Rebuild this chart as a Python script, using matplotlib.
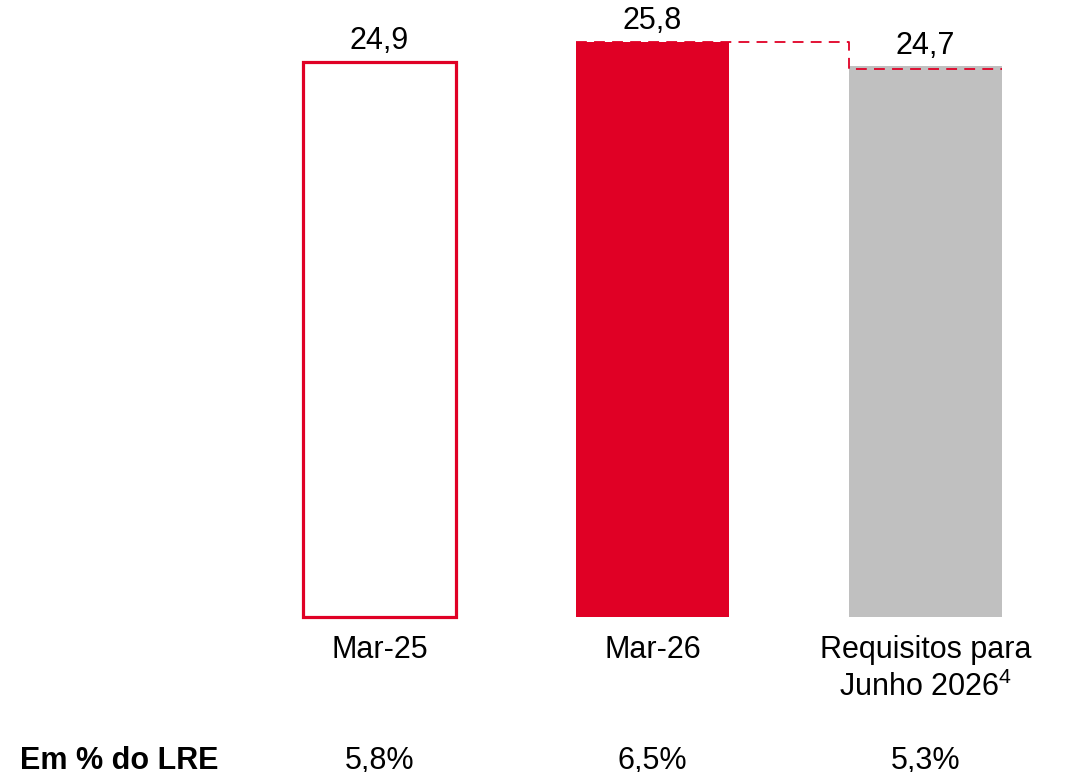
import matplotlib.pyplot as plt

# dados do gráfico
categorias = ["Mar-25", "Mar-26", "Requisitos para\nJunho 2026$^{\\mathrm{4}}$"]
valores = [24.9, 25.8, 24.7]
rotulos_valores = ["24,9", "25,8", "24,7"]
pct_lre = ["5,8%", "6,5%", "5,3%"]
titulo_linha = "Em % do LRE"

vermelho = "#E00025"
cinza = "#C0C0C0"

plt.rcParams['font.family'] = ['Liberation Sans', 'DejaVu Sans']
plt.rcParams['mathtext.fontset'] = 'custom'
plt.rcParams['mathtext.rm'] = 'Liberation Sans'

fig = plt.figure(figsize=(10.89, 7.72), dpi=100)
ax = fig.add_axes([0, 0, 1, 1])

x = [0, 1, 2]
largura = 0.56

# barras
ax.bar(x[0], valores[0], width=largura, facecolor="white", edgecolor=vermelho, linewidth=2.3)
ax.bar(x[1], valores[1], width=largura, color=vermelho)
ax.bar(x[2], valores[2], width=largura, color=cinza)

# linha tracejada entre Mar-26 e requisitos
lx = [x[1] - largura / 2, x[2] - largura / 2, x[2] - largura / 2, x[2] + largura / 2]
ly = [valores[1], valores[1], valores[2] - 0.1, valores[2] - 0.1]
ax.plot(lx, ly, color=vermelho, linewidth=1.3, linestyle=(0, (6, 4)))

# rótulos dos valores
for i in range(3):
    ax.text(x[i], valores[i] + 0.25, rotulos_valores[i], ha="center", va="bottom", fontsize=22)

# rótulos das categorias
for i in range(3):
    ax.text(x[i], -0.82, categorias[i], ha="center", va="top", fontsize=22, linespacing=1.25)

# linha "Em % do LRE"
ax.text(-1.318, -6.47, titulo_linha, ha="left", va="center", fontsize=22, fontweight="bold")
for i in range(3):
    ax.text(x[i], -6.47, pct_lre[i], ha="center", va="center", fontsize=22)

ax.set_xlim(-1.39, 2.599)
ax.set_ylim(-6.95, 27.68)
ax.axis("off")

plt.savefig("out.png", dpi=100)
